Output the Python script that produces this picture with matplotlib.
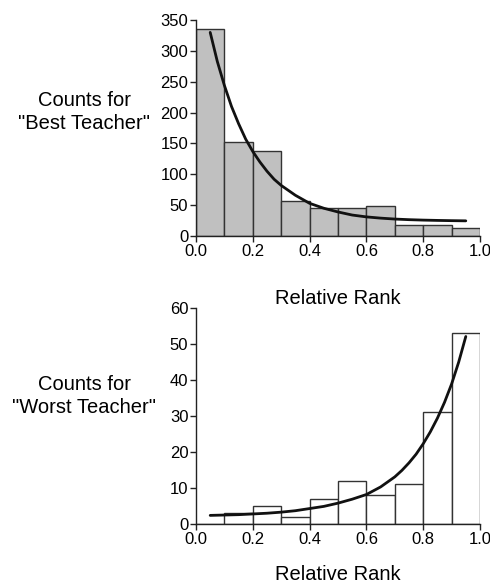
import matplotlib
matplotlib.use("Agg")
import matplotlib.pyplot as plt

plt.rcParams['font.family'] = ['Liberation Sans', 'DejaVu Sans']

bin_left = [0.0, 0.1, 0.2, 0.3, 0.4, 0.5, 0.6, 0.7, 0.8, 0.9]
best_counts = [336, 153, 137, 57, 46, 45, 48, 18, 18, 13]
worst_counts = [0, 3, 5, 2, 7, 12, 8, 11, 31, 53]

best_curve_x = [0.05, 0.075, 0.1, 0.125, 0.15, 0.175, 0.2, 0.225, 0.25, 0.275,
                0.3, 0.35, 0.4, 0.45, 0.5, 0.55, 0.6, 0.65, 0.7, 0.75, 0.8,
                0.85, 0.9, 0.95]
best_curve = [330, 283, 244, 210, 182, 157, 137, 120, 105, 92,
              82, 66, 53, 45, 39, 34, 31, 29, 27.5, 26.5, 25.8,
              25.3, 24.9, 24.6]
worst_curve_x = [0.05, 0.1, 0.15, 0.2, 0.25, 0.3, 0.35, 0.4, 0.45, 0.5, 0.55,
                 0.6, 0.65, 0.7, 0.725, 0.75, 0.775, 0.8, 0.825, 0.85, 0.875,
                 0.9, 0.925, 0.95]
worst_curve = [2.4, 2.5, 2.6, 2.8, 3.0, 3.3, 3.7, 4.3, 4.9, 5.8, 6.9,
               8.2, 10.3, 13.1, 14.9, 17.0, 19.4, 22.3, 25.6, 29.4, 33.8,
               38.9, 45.0, 52.1]

best_ticks = [0, 50, 100, 150, 200, 250, 300, 350]
worst_ticks = [0, 10, 20, 30, 40, 50, 60]
x_ticks = [0.0, 0.2, 0.4, 0.6, 0.8, 1.0]
x_ticklabels = ["0.0", "0.2", "0.4", "0.6", "0.8", "1.0"]

fig = plt.figure(figsize=(4.9, 5.88), dpi=100)

def style(ax, yticks):
    ax.spines['top'].set_visible(False)
    ax.spines['right'].set_visible(False)
    for s in ('left', 'bottom'):
        ax.spines[s].set_linewidth(1.0)
        ax.spines[s].set_color('#222222')
    ax.set_xlim(0, 1.0)
    ax.set_ylim(0, yticks[-1])
    ax.set_yticks(yticks)
    ax.set_xticks(x_ticks)
    ax.set_xticklabels(x_ticklabels)
    ax.tick_params(axis='both', direction='out', length=4, width=1.0,
                   labelsize=12, pad=1.5, color='#222222')

ax1 = fig.add_axes([0.4, 0.5986, 0.5796, 0.3673])
ax1.bar(bin_left, best_counts, width=0.1, align='edge', color='#c0c0c0',
        edgecolor='#333333', linewidth=1.0)
ax1.plot(best_curve_x, best_curve, color='#111111', linewidth=2.0,
         solid_capstyle='round')
style(ax1, best_ticks)

ax2 = fig.add_axes([0.4, 0.1088, 0.5796, 0.3673])
ax2.bar(bin_left, worst_counts, width=0.1, align='edge', color='white',
        edgecolor='#333333', linewidth=1.0)
ax2.plot(worst_curve_x, worst_curve, color='#111111', linewidth=2.0,
         solid_capstyle='round')
style(ax2, worst_ticks)

fig.text(338/490, 1 - 299/588, "Relative Rank", ha='center', va='center', fontsize=14.5)
fig.text(338/490, 1 - 575/588, "Relative Rank", ha='center', va='center', fontsize=14.5)
fig.text(84/490, 1 - 112/588, 'Counts for\n"Best Teacher"', ha='center', va='center',
         fontsize=14.5, linespacing=1.25)
fig.text(84/490, 1 - 396/588, 'Counts for\n"Worst Teacher"', ha='center', va='center',
         fontsize=14.5, linespacing=1.25)

fig.savefig("out.png", dpi=100)
